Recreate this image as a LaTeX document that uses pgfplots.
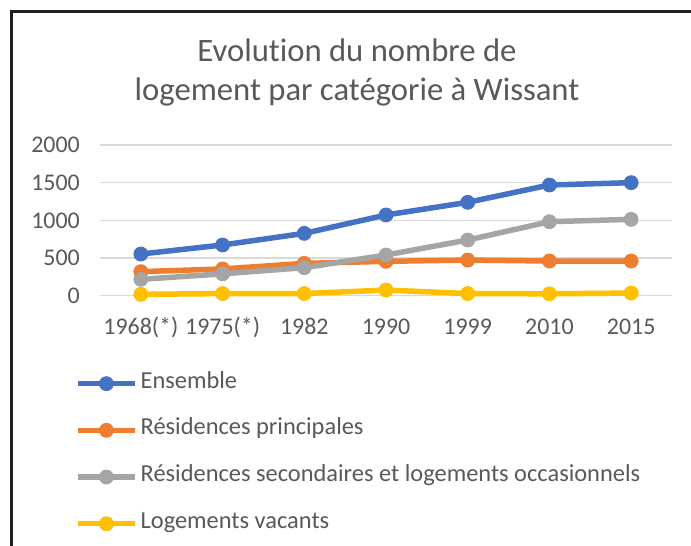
\documentclass[border=0pt]{standalone}
\usepackage{pgfplots}
\pgfplotsset{compat=1.18}
\usepackage{fontspec}
\setmainfont{Carlito}[Ligatures=NoCommon]
\definecolor{cBlue}{HTML}{4472C4}
\definecolor{cOrange}{HTML}{ED7D31}
\definecolor{cGray}{HTML}{A5A5A5}
\definecolor{cYellow}{HTML}{FFC000}
\definecolor{cText}{HTML}{595959}
\definecolor{cGrid}{HTML}{D9D9D9}
\begin{document}
\begin{tikzpicture}[x=1bp,y=1bp]
\useasboundingbox[fill=white] (0,0) rectangle (691,546);
\draw[line width=2.2bp, color=black!88] (11.5,-5) -- (11.5,534.5) -- (700,534.5);
\node[anchor=base, font=\fontsize{32.8}{36}\selectfont, text=cText, inner sep=0] at (357,484) {Evolution du nombre de};
\node[anchor=base, font=\fontsize{32.8}{36}\selectfont, text=cText, inner sep=0] at (357,445) {logement par catégorie à Wissant};
\begin{axis}[
  at={(100bp,250.3bp)}, anchor=south west,
  scale only axis, width=572bp, height=150.7bp,
  xmin=-0.5, xmax=6.5, ymin=0, ymax=2000,
  xtick={0,...,6},
  xticklabels={1968(*),1975(*),1982,1990,1999,2010,2015},
  ytick={0,500,1000,1500,2000},
  axis line style={draw=none},
  major tick length=0pt,
  ymajorgrids, grid style={cGrid, line width=1.3bp},
  /pgf/number format/assume math mode=true,
  /pgf/number format/1000 sep={},
  tick label style={font=\fontsize{24}{28}\selectfont, text=cText, inner sep=0},
  xticklabel style={anchor=base, yshift=-39bp},
  yticklabel style={anchor=east, xshift=-20bp},
  clip=false,
  legend style={at={(-0.049,-0.506)}, anchor=north west, draw=none, fill=none,
    font=\fontsize{24.5}{28}\selectfont, text=cText,
    nodes={inner sep=0pt, text height=14bp, text depth=5bp},
    row sep=27.7bp},
  legend cell align=left,
  /tikz/every odd column/.append style={column sep=3bp},
  legend image code/.code={\draw[mark repeat=2,mark phase=2] plot coordinates {(0bp,0bp)(28.5bp,0bp)(57bp,0bp)};},
  every axis plot/.append style={line width=5.5bp, mark=*, mark size=7bp, mark options={solid, line width=0.8bp}},
]
\addplot[color=cBlue] coordinates {(0,553) (1,673) (2,827) (3,1071) (4,1239) (5,1469) (6,1500)};
\addlegendentry{Ensemble}
\addplot[color=cOrange] coordinates {(0,319) (1,355) (2,429) (3,456) (4,473) (5,460) (6,460)};
\addlegendentry{Résidences principales}
\addplot[color=cGray] coordinates {(0,217) (1,290) (2,372) (3,540) (4,739) (5,982) (6,1013)};
\addlegendentry{Résidences secondaires et logements occasionnels}
\addplot[color=cYellow] coordinates {(0,18) (1,28) (2,28) (3,75) (4,28) (5,25) (6,35)};
\addlegendentry{Logements vacants}
\end{axis}
\end{tikzpicture}
\end{document}
